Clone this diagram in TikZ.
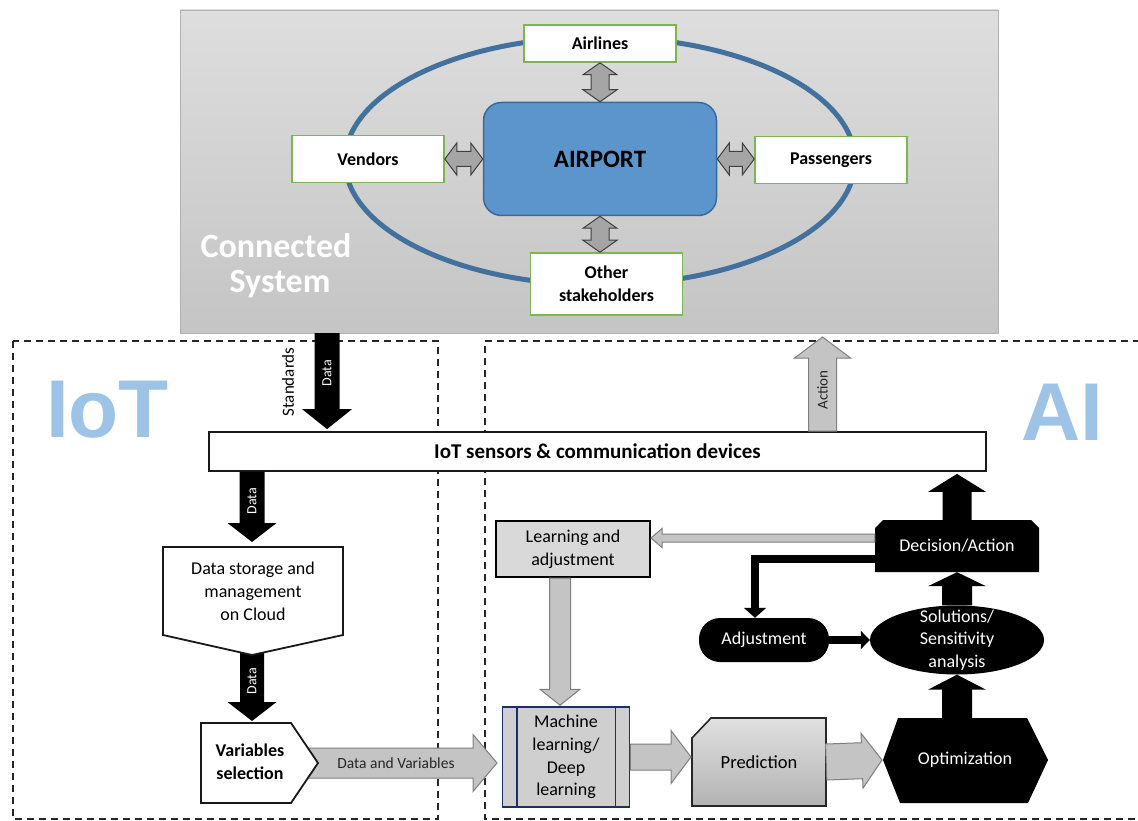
\documentclass[tikz,border=0pt]{standalone}
\usepackage{fontspec}
\setmainfont{Carlito}
\newfontfamily\bigsans{Liberation Sans}
\usetikzlibrary{calc,shapes.geometric,arrows.meta}
\definecolor{stakegreen}{HTML}{7DB54F}
\definecolor{airblue}{HTML}{5B95CB}
\definecolor{airedge}{HTML}{3C6A96}
\definecolor{ringblue}{HTML}{41719C}
\definecolor{bigblue}{HTML}{9DC3E6}
\definecolor{mlnavy}{HTML}{1F2D6B}
\definecolor{arrgrey}{HTML}{C4C4C4}
\definecolor{arredge}{HTML}{7F7F7F}
\definecolor{dblgrey}{HTML}{A5A5A5}
\definecolor{txtdark}{HTML}{262626}
% #1 style, #2 from, #3 to, #4 half shaft, #5 half head, #6 head length
\newcommand\blockarrow[6]{%
  \coordinate (ba-h) at ($(#3)!#6!(#2)$);
  \path[#1] ($(#2)!#4!90:(#3)$) -- ($(ba-h)!#4!90:(#3)$) -- ($(ba-h)!#5!90:(#3)$) -- (#3)
    -- ($(ba-h)!#5!-90:(#3)$) -- ($(ba-h)!#4!-90:(#3)$) -- ($(#2)!#4!-90:(#3)$) -- cycle;}
\newcommand\dblarrow[6]{%
  \coordinate (da-a) at ($(#2)!#6!(#3)$);
  \coordinate (da-b) at ($(#3)!#6!(#2)$);
  \path[#1] (#2) -- ($(da-a)!#5!90:(#3)$) -- ($(da-a)!#4!90:(#3)$) -- ($(da-b)!#4!90:(#3)$)
    -- ($(da-b)!#5!90:(#3)$) -- (#3) -- ($(da-b)!#5!-90:(#3)$) -- ($(da-b)!#4!-90:(#3)$)
    -- ($(da-a)!#4!-90:(#3)$) -- ($(da-a)!#5!-90:(#3)$) -- cycle;}
\begin{document}
\begin{tikzpicture}[x=1pt,y=-1pt,
  txt/.style={font=\fontsize{18}{23}\selectfont, align=center, inner sep=0pt},
  stake/.style={draw=stakegreen, line width=1.5pt, fill=white, inner sep=0pt, align=center,
    font=\bfseries\fontsize{18}{23}\selectfont, minimum width=152pt},
  dbl/.style={fill=dblgrey, draw=black!75, line width=1pt},
  greyarr/.style={fill=arrgrey, draw=arredge, line width=1pt},
  blackarr/.style={fill=black},
  boxline/.style={draw=black!90, line width=1.8pt},
  dashbox/.style={draw=black!85, line width=1.6pt, dash pattern=on 7pt off 5pt},
  arrlbl/.style={font=\fontsize{15}{17}\selectfont, inner sep=0pt},
  datalbl/.style={font=\fontsize{14}{16}\selectfont, text=white, rotate=90, inner sep=0pt},
  bigword/.style={font=\bigsans\bfseries\fontsize{82}{82}\selectfont, text=bigblue, inner sep=0pt},
  cstext/.style={font=\bfseries\fontsize{34}{36}\selectfont, inner sep=0pt, anchor=base, text=white},
  blackline/.style={line width=8pt, -{Triangle[width=22pt,length=10pt]}},
]
\useasboundingbox (0,0) rectangle (1138,821);
\fill[white] (0,0) rectangle (1138,821);

% ---------- connected system panel ----------
\node[draw=black!30, top color=black!13, bottom color=black!23, minimum width=818pt,
  minimum height=323pt, inner sep=0pt] (panel) at (589,171.5) {};
\draw[ringblue, line width=5pt] (600,161) ellipse [x radius=255pt, y radius=124pt];

\node[stake, minimum height=37pt] (airlines) at (600,43.5) {Airlines};
\node[stake, minimum height=47pt] (vendors) at (368,159) {Vendors};
\node[stake, minimum height=47pt] (passengers) at (831,160) {Passengers};
\node[stake, minimum height=62pt] (other) at (606.5,284) {Other\\stakeholders};
\node[fill=airblue, draw=airedge, line width=1.5pt, rounded corners=18pt, minimum width=233pt,
  minimum height=113pt, inner sep=0pt, font=\bfseries\fontsize{25}{28}\selectfont] (airport) at (600,159) {AIRPORT};

\coordinate (a-up) at (airport.north |- airlines.south);
\dblarrow{dbl}{a-up}{airport.north}{9pt}{17pt}{12pt}
\coordinate (a-dn) at (airport.south |- other.north);
\dblarrow{dbl}{airport.south}{a-dn}{9pt}{17pt}{12pt}
\coordinate (a-lf) at (vendors.east -| airport.west);
\dblarrow{dbl}{vendors.east}{a-lf}{7.5pt}{16pt}{12pt}
\coordinate (a-rt) at (airport.east -| passengers.west);
\dblarrow{dbl}{airport.east}{a-rt}{7.5pt}{16pt}{12pt}

\node[cstext] (cs1) at (276,258) {Connected};
\node[cstext] (cs2) at (280,292) {System};

% ---------- dashed regions ----------
\draw[dashbox] (13,341) rectangle (438,819);
\draw[dashbox] (1140,341) -- (485,341) -- (485,819) -- (1140,819);
\node[bigword] (iot) at (107.5,409.5) {IoT};
\node[bigword] (ai) at (1062,412) {AI};

% ---------- IoT bar ----------
\node[draw=black!90, line width=1.8pt, fill=white, minimum width=777pt, minimum height=39pt,
  inner sep=0pt, font=\bfseries\fontsize{21}{24}\selectfont] (bar) at (597.5,451.5)
  {IoT sensors \& communication devices};

% Data from panel to bar
\coordinate (d1s) at (327,333);
\coordinate (d1e) at ([yshift=2pt]d1s |- bar.north);
\blockarrow{blackarr}{d1s}{d1e}{12.5pt}{25pt}{20pt}
\node[datalbl] (d1lbl) at (327,373) {Data};
\node[arrlbl, rotate=90, font=\fontsize{17}{19}\selectfont] (standards) at (288,382) {Standards};

% Action
\coordinate (act-e) at (822.5,337);
\coordinate (act-s) at (act-e |- bar.north);
\blockarrow{greyarr}{act-s}{act-e}{14pt}{28pt}{21pt}
\node[arrlbl, rotate=90, text=txtdark] (actlbl) at (822.5,390) {Action};

% Data bar -> storage
\coordinate (st-top) at (252,547);
\coordinate (st-tip) at (252,655);
\coordinate (d2s) at (st-top |- bar.south);
\coordinate (d2e) at ([yshift=5pt]st-top);
\blockarrow{blackarr}{d2s}{d2e}{12.5pt}{24.5pt}{19pt}
\node[datalbl] (d2lbl) at (252,501) {Data};

% Data storage -> variables
\coordinate (d3s) at ([yshift=8pt]st-tip);
\coordinate (vs-top) at (252,721);
\blockarrow{blackarr}{d3s}{vs-top}{12pt}{24.5pt}{19pt}
\node[datalbl] (d3lbl) at (252,681) {Data};

\draw[boxline, fill=white] (163,547) -- (343,547) -- (343,635) -- (st-tip) -- (163,635) -- cycle;
\node[txt, minimum width=180pt, minimum height=88pt] (storage) at (253,591) {Data storage and\\management\\on Cloud};

% Data and Variables arrow
\coordinate (dv-s) at (300,763);
\coordinate (dv-e) at (497,763);
\blockarrow{greyarr}{dv-s}{dv-e}{15pt}{28.5pt}{24pt}
\node[arrlbl, text=txtdark, font=\fontsize{15.5}{18}\selectfont] (dvlbl) at (396,763) {Data and Variables};

\draw[boxline, fill=white] (201,723) -- (291,723) -- (318,763) -- (291,803) -- (201,803) -- cycle;
\node[txt, font=\bfseries\fontsize{18}{23}\selectfont] (varsel) at (250,762) {Variables\\selection};

% ---------- AI part ----------
\node[txt, fill=black!15, draw=black, line width=2pt, minimum width=154pt, minimum height=56pt] (learn) at (573,549) {Learning and\\adjustment};

\node[txt, fill=black!19, draw=mlnavy, line width=1.5pt, minimum width=127pt, minimum height=100pt,
  font=\fontsize{18}{22.6}\selectfont] (ml) at (566,757) {Machine\\learning/\\Deep\\learning};
\draw[mlnavy, line width=1.5pt] ([xshift=15pt]ml.north west) -- ([xshift=15pt]ml.south west);
\draw[mlnavy, line width=1.5pt] ([xshift=-15pt]ml.north east) -- ([xshift=-15pt]ml.south east);

\coordinate (lm-s) at ([xshift=-13pt]learn.south);
\coordinate (lm-e) at ([yshift=1pt]lm-s |- ml.north);
\blockarrow{greyarr}{lm-s}{lm-e}{10.5pt}{20pt}{16pt}

% Prediction
\path[draw=black!85, line width=1.6pt, top color=black!12, bottom color=black!30]
  (692,738) -- (711,718) -- (826,718) -- (826,806) -- (692,806) -- cycle;
\node[txt, font=\fontsize{18.5}{22}\selectfont, minimum width=134pt, minimum height=88pt] (pred) at (759,762) {Prediction};
\coordinate (pred-w) at (691,757);
\blockarrow{greyarr}{ml.east}{pred-w}{13pt}{26.5pt}{20pt}

% Optimization
\fill[black] (883,760) -- (898,718) -- (1027,718) -- (1048,760) -- (1028,803) -- (900,803) -- cycle;
\node[txt, text=white] (opt) at (965,760) {Optimization};
\coordinate (opt-w) at (882,760);
\blockarrow{greyarr}{pred.east}{opt-w}{18pt}{27.5pt}{20pt}

% Solutions
\node[ellipse, fill=black, minimum width=174pt, minimum height=69pt, inner sep=0pt] (sol) at (957,640) {};
\node[txt, text=white, font=\fontsize{18}{22.5}\selectfont] (soltext) at (957,640) {Solutions/\\Sensitivity\\analysis};
\coordinate (os) at (957,719);
\blockarrow{blackarr}{os}{sol.south}{15pt}{29pt}{15pt}

% Decision
\fill[black] (875,528) -- (883,520) -- (1031,520) -- (1039,528) -- (1039,572) -- (875,572) -- cycle;
\node[txt, text=white, minimum width=164pt, minimum height=52pt] (dec) at (957,546) {Decision/Action};
\coordinate (sd-e) at (sol.north |- dec.south);
\blockarrow{blackarr}{sol.north}{sd-e}{15pt}{29pt}{14pt}
\coordinate (db-e) at ([yshift=-2pt]dec.north |- bar.south);
\blockarrow{blackarr}{dec.north}{db-e}{14.5pt}{29pt}{18pt}

% Decision -> Learning
\coordinate (dl-s) at ([yshift=8pt]dec.west);
\coordinate (dl-e) at (dl-s -| learn.east);
\blockarrow{greyarr}{dl-s}{dl-e}{4pt}{9.5pt}{11pt}

% Adjustment
\node[txt, text=white, fill=black, rounded corners=21pt, minimum width=130pt, minimum height=44pt] (adj) at (764,640) {Adjustment};
\draw[blackline] ([yshift=-13pt]dec.west) -| ([xshift=-9pt]adj.north);
\draw[line width=8pt, -{Triangle[width=18pt,length=9pt]}] (adj.east) -- (sol.west);
\end{tikzpicture}
\end{document}
